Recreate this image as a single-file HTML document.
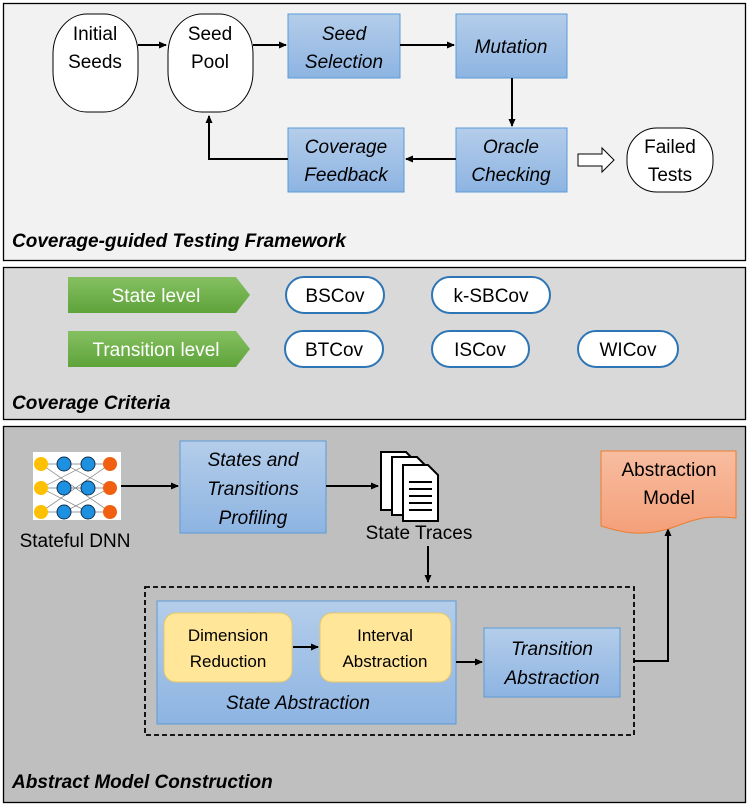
<!DOCTYPE html>
<html><head><meta charset="utf-8"><style>
html,body{margin:0;padding:0;background:#fff;}
svg{display:block;font-family:"Liberation Sans",sans-serif;}
</style></head><body>
<svg width="750" height="807" viewBox="0 0 750 807" xmlns="http://www.w3.org/2000/svg">
<defs>
<linearGradient id="bl" x1="0" y1="0" x2="0" y2="1"><stop offset="0" stop-color="#b4cdea"/><stop offset="1" stop-color="#8db4e2"/></linearGradient>
<linearGradient id="gr" x1="0" y1="0" x2="0" y2="1"><stop offset="0" stop-color="#86c061"/><stop offset="1" stop-color="#5ea33a"/></linearGradient>
<linearGradient id="or" x1="0" y1="0" x2="0" y2="1"><stop offset="0" stop-color="#f8bda0"/><stop offset="1" stop-color="#f4a07a"/></linearGradient>
<marker id="ar" markerWidth="8" markerHeight="8" refX="7" refY="4" orient="auto" markerUnits="userSpaceOnUse"><path d="M0,0.5 L8,4 L0,7.5 Z" fill="#000"/></marker>
</defs>
<!-- Panel 1 -->
<rect x="3.5" y="3.5" width="742" height="257" fill="#f2f2f2" stroke="#000" stroke-width="1.3"/>
<g font-size="19" text-anchor="middle" fill="#000">
<rect x="53" y="14" width="85" height="98" rx="34" ry="40" fill="#fff" stroke="#000"/>
<text x="95" y="40">Initial</text><text x="95" y="68">Seeds</text>
<rect x="168" y="14" width="85" height="98" rx="34" ry="40" fill="#fff" stroke="#000"/>
<text x="210" y="40">Seed</text><text x="210" y="68">Pool</text>
<rect x="288" y="14" width="112" height="64" fill="url(#bl)" stroke="#5b9bd5"/>
<text x="344" y="40" font-style="italic">Seed</text><text x="344" y="68" font-style="italic">Selection</text>
<rect x="456" y="14" width="111" height="64" fill="url(#bl)" stroke="#5b9bd5"/>
<text x="511" y="53" font-style="italic">Mutation</text>
<rect x="456" y="128" width="111" height="64" fill="url(#bl)" stroke="#5b9bd5"/>
<text x="511" y="153" font-style="italic">Oracle</text><text x="511" y="181" font-style="italic">Checking</text>
<rect x="288" y="128" width="116" height="64" fill="url(#bl)" stroke="#5b9bd5"/>
<text x="346" y="153" font-style="italic">Coverage</text><text x="346" y="181" font-style="italic">Feedback</text>
<rect x="627" y="128" width="86" height="64" rx="30" ry="30" fill="#fff" stroke="#000"/>
<text x="670" y="153">Failed</text><text x="670" y="181">Tests</text>
</g>
<g stroke="#000" stroke-width="2" fill="none">
<line x1="138" y1="45" x2="166" y2="45" marker-end="url(#ar)"/>
<line x1="253" y1="45" x2="286" y2="45" marker-end="url(#ar)"/>
<line x1="400" y1="45" x2="454" y2="45" marker-end="url(#ar)"/>
<line x1="512" y1="78" x2="512" y2="126" marker-end="url(#ar)"/>
<line x1="456" y1="159" x2="406" y2="159" marker-end="url(#ar)"/>
<polyline points="288,159 209,159 209,116" marker-end="url(#ar)"/>
</g>
<path d="M578,154 L602,154 L602,148 L614,160 L602,172 L602,166 L578,166 Z" fill="#fff" stroke="#000"/>
<text x="12" y="247" font-size="19" font-weight="bold" font-style="italic">Coverage-guided Testing Framework</text>
<!-- Panel 2 -->
<rect x="3.5" y="267.5" width="742" height="152" fill="#d9d9d9" stroke="#000" stroke-width="1.3"/>
<path d="M68,277 L236,277 L250,295 L236,313 L68,313 Z" fill="url(#gr)"/>
<path d="M68,331 L236,331 L250,349 L236,367 L68,367 Z" fill="url(#gr)"/>
<g font-size="19" text-anchor="middle">
<text x="156" y="302" fill="#fff">State level</text>
<text x="156" y="356" fill="#fff">Transition level</text>
<g fill="#fff" stroke="#2e75b6" stroke-width="2">
<rect x="286" y="277" width="98" height="36" rx="18"/>
<rect x="432" y="277" width="118" height="36" rx="18"/>
<rect x="285" y="331" width="98" height="36" rx="18"/>
<rect x="432" y="331" width="97" height="36" rx="18"/>
<rect x="578" y="331" width="100" height="36" rx="18"/>
</g>
<text x="335" y="302">BSCov</text>
<text x="491" y="302">k-SBCov</text>
<text x="334" y="356">BTCov</text>
<text x="480" y="356">ISCov</text>
<text x="628" y="356">WICov</text>
</g>
<text x="12" y="409" font-size="19" font-weight="bold" font-style="italic">Coverage Criteria</text>
<!-- Panel 3 -->
<rect x="3.5" y="426.5" width="742" height="376" fill="#bfbfbf" stroke="#000" stroke-width="1.3"/>
<rect x="33" y="452" width="88" height="68" fill="#fff"/>
<g stroke="#777" stroke-width="0.7">
<line x1="41" y1="464" x2="110" y2="512"/><line x1="41" y1="512" x2="110" y2="464"/>
<line x1="41" y1="464" x2="110" y2="464"/><line x1="41" y1="488" x2="110" y2="488"/><line x1="41" y1="512" x2="110" y2="512"/>
<line x1="41" y1="488" x2="88" y2="464"/><line x1="41" y1="488" x2="88" y2="512"/>
<line x1="64" y1="464" x2="110" y2="488"/><line x1="64" y1="512" x2="110" y2="488"/>
</g>
<g>
<circle cx="41" cy="464" r="7" fill="#ffc000"/><circle cx="41" cy="488" r="7" fill="#ffc000"/><circle cx="41" cy="512" r="7" fill="#ffc000"/>
<circle cx="64" cy="464" r="7" fill="#1e90e0" stroke="#135" stroke-width="1"/><circle cx="64" cy="488" r="7" fill="#1e90e0" stroke="#135" stroke-width="1"/><circle cx="64" cy="512" r="7" fill="#1e90e0" stroke="#135" stroke-width="1"/>
<circle cx="88" cy="464" r="7" fill="#1e90e0" stroke="#135" stroke-width="1"/><circle cx="88" cy="488" r="7" fill="#1e90e0" stroke="#135" stroke-width="1"/><circle cx="88" cy="512" r="7" fill="#1e90e0" stroke="#135" stroke-width="1"/>
<circle cx="110" cy="464" r="7" fill="#f06010"/><circle cx="110" cy="488" r="7" fill="#f06010"/><circle cx="110" cy="512" r="7" fill="#f06010"/>
</g>
<text x="75" y="547" font-size="19" text-anchor="middle">Stateful DNN</text>
<rect x="180" y="441" width="146" height="92" fill="url(#bl)" stroke="#5b9bd5"/>
<g font-size="19" text-anchor="middle" font-style="italic">
<text x="253" y="466">States and</text><text x="253" y="495">Transitions</text><text x="253" y="524">Profiling</text>
</g>
<g stroke="#000" stroke-width="2" fill="none">
<line x1="121" y1="486" x2="178" y2="486" marker-end="url(#ar)"/>
<line x1="326" y1="486" x2="378" y2="486" marker-end="url(#ar)"/>
<line x1="428" y1="546" x2="428" y2="582" marker-end="url(#ar)"/>
<polyline points="634,661 668,661 668,529" marker-end="url(#ar)"/>
</g>
<!-- docs -->
<g fill="#fff" stroke="#000" stroke-width="2">
<path d="M0,0 L25,0 L35,10 L35,58 L0,58 Z" transform="translate(381,452)"/>
<path d="M0,0 L25,0 L35,10 L35,58 L0,58 Z" transform="translate(392,457)"/>
<path d="M0,0 L25,0 L35,10 L35,56 L0,56 Z" transform="translate(403,465)"/>
</g>
<g stroke="#000" stroke-width="2">
<line x1="409" y1="482" x2="432" y2="482"/><line x1="409" y1="489" x2="432" y2="489"/><line x1="409" y1="496" x2="432" y2="496"/><line x1="409" y1="503" x2="432" y2="503"/><line x1="409" y1="510" x2="432" y2="510"/>
</g>
<text x="419" y="539" font-size="19" text-anchor="middle">State Traces</text>
<!-- abstraction model -->
<path d="M601,451 L736,451 L736,518 C700,514 690,522 668,529 C640,537 620,532 601,526 Z" fill="url(#or)" stroke="#ed7d31"/>
<g font-size="19" text-anchor="middle"><text x="669" y="476">Abstraction</text><text x="669" y="504">Model</text></g>
<!-- dashed -->
<rect x="145" y="587" width="489" height="148" fill="none" stroke="#000" stroke-width="1.8" stroke-dasharray="5,3"/>
<rect x="157" y="601" width="299" height="123" fill="url(#bl)" stroke="#5b9bd5"/>
<rect x="164" y="613" width="128" height="69" rx="12" fill="#ffe699" stroke="#e6c76a"/>
<rect x="320" y="613" width="131" height="69" rx="12" fill="#ffe699" stroke="#e6c76a"/>
<g font-size="17" text-anchor="middle">
<text x="228" y="641">Dimension</text><text x="228" y="667">Reduction</text>
<text x="385" y="641">Interval</text><text x="385" y="667">Abstraction</text>
</g>
<text x="298" y="709" font-size="19" font-style="italic" text-anchor="middle">State Abstraction</text>
<rect x="484" y="628" width="136" height="69" fill="url(#bl)" stroke="#5b9bd5"/>
<g font-size="19" font-style="italic" text-anchor="middle"><text x="552" y="655">Transition</text><text x="552" y="684">Abstraction</text></g>
<g stroke="#000" stroke-width="2">
<line x1="293" y1="647" x2="318" y2="647" marker-end="url(#ar)"/>
<line x1="456" y1="662" x2="482" y2="662" marker-end="url(#ar)"/>
</g>
<text x="12" y="788" font-size="19" font-weight="bold" font-style="italic">Abstract Model Construction</text>
</svg>
</body></html>
